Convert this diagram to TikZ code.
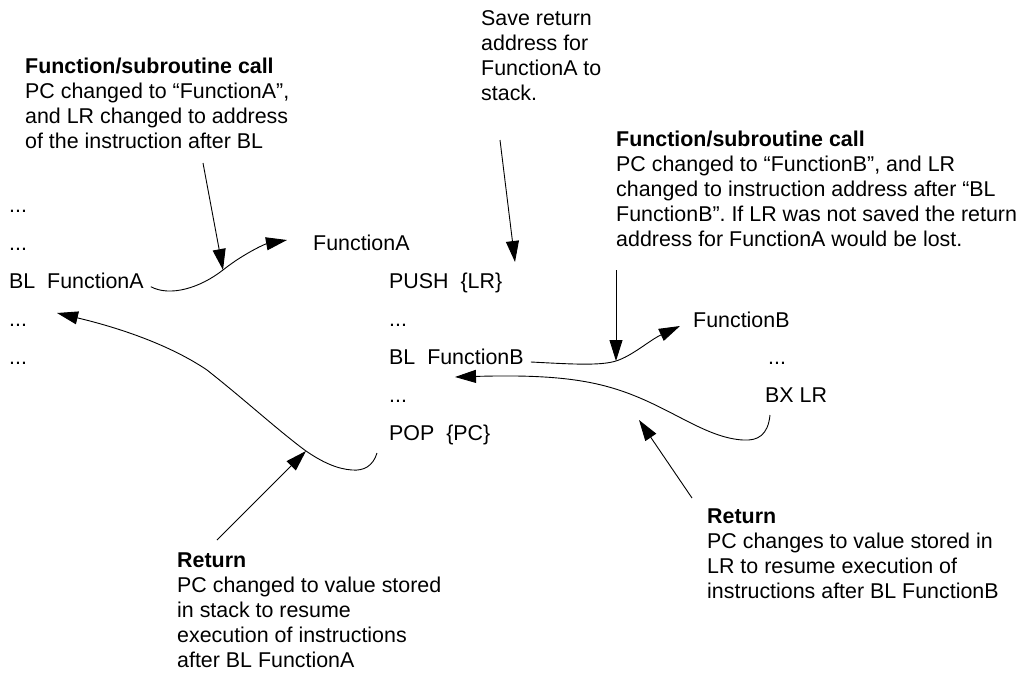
\documentclass[tikz,border=0pt]{standalone}
\usepackage{fontspec}
\setmainfont{Liberation Sans}
\usetikzlibrary{arrows.meta,calc}
\tikzset{
  txt/.style={anchor=base west, inner sep=0pt, font=\fontsize{21.4}{25}\selectfont},
  arr/.style={-{Triangle[length=21pt,width=13pt]}, line width=0.9pt},
}
\newcommand{\blk}[1]{\begin{tabular}[t]{@{}l@{}}#1\end{tabular}}
\begin{document}
\begin{tikzpicture}[x=1pt,y=-1pt]
\useasboundingbox (0,0) rectangle (1021,678);
% text blocks
\node[txt] (callA) at (25,73) {\blk{\textbf{Function/subroutine call}\\PC changed to “FunctionA”,\\and LR changed to address\\of the instruction after BL}};
\node[txt] (save) at (481,25) {\blk{Save return\\address for\\FunctionA to\\stack.}};
\node[txt] (callB) at (616,146) {\blk{\textbf{Function/subroutine call}\\PC changed to “FunctionB”, and LR\\changed to instruction address after “BL\\FunctionB”. If LR was not saved the return\\address for FunctionA would be lost.}};
\node[txt] (retA) at (177,567) {\blk{\textbf{Return}\\PC changed to value stored\\in stack to resume\\execution of instructions\\after BL FunctionA}};
\node[txt] (retB) at (707,523) {\blk{\textbf{Return}\\PC changes to value stored in\\LR to resume execution of\\instructions after BL FunctionB}};
% code
\node[txt] (l0) at (9,212) {...};
\node[txt] (l1) at (9,250) {...};
\node[txt] (blA) at (9,288) {BL\ \ FunctionA};
\node[txt] (l3) at (9,326) {...};
\node[txt] (l4) at (9,364) {...};
\node[txt] (fA) at (313,250) {FunctionA};
\node[txt] (push) at (389,288) {PUSH\ \ \{LR\}};
\node[txt] (m3) at (389,326) {...};
\node[txt] (blB) at (389,364) {BL\ \ FunctionB};
\node[txt] (m5) at (389,402) {...};
\node[txt] (pop) at (389,440) {POP\ \ \{PC\}};
\node[txt] (fB) at (693,327) {FunctionB};
\node[txt] (r4) at (768,364) {...};
\node[txt] (bx) at (765,402) {BX LR};
% junctions and free ends
\coordinate (j1) at (223,270);
\coordinate (j2) at (616,361);
\coordinate (j3) at (306,451);
\coordinate (t2) at (515,262);
\coordinate (t4) at (639,420);
% connectors
\draw[arr] ($(callA.base west)+(178,90)$) -- (j1);
\draw[arr] ($(blA.base east)+(7,-1.3)$) .. controls (170,297) and (200,288) .. (j1)
  .. controls (243,254) and (265,244) .. ($(fA.base west)+(-26,-10)$);
\draw[arr] ($(save.base west)+(19,115)$) -- (t2);
\draw[arr] ($(callB.base west)+(0,124)$) -- (j2);
\draw[arr] ($(blB.base east)+(7,-2)$) .. controls (570,364) and (600,366) .. (j2)
  .. controls (632,356) and (650,340) .. ($(fB.base west)+(-13,-1)$);
\draw[arr] ($(bx.base west)+(5,13)$) .. controls (768,435) and (758,441) .. (743,440)
  .. controls (710,438) and (680,415) .. (640,398)
  .. controls (600,381) and (560,374) .. ($(blB.base west)+(66,13)$);
\draw[arr] ($(retB.base west)+(-15,-25)$) -- (t4);
\draw[arr] ($(pop.base west)+(-12,13)$) .. controls (373,466) and (364,471) .. (352,470)
  .. controls (337,469) and (322,462) .. (j3)
  .. controls (280,432) and (245,400) .. (207,370)
  .. controls (170,345) and (120,328) .. ($(l3.base west)+(48,-13)$);
\draw[arr] ($(retA.base west)+(40,-27)$) -- (j3);
\end{tikzpicture}
\end{document}
